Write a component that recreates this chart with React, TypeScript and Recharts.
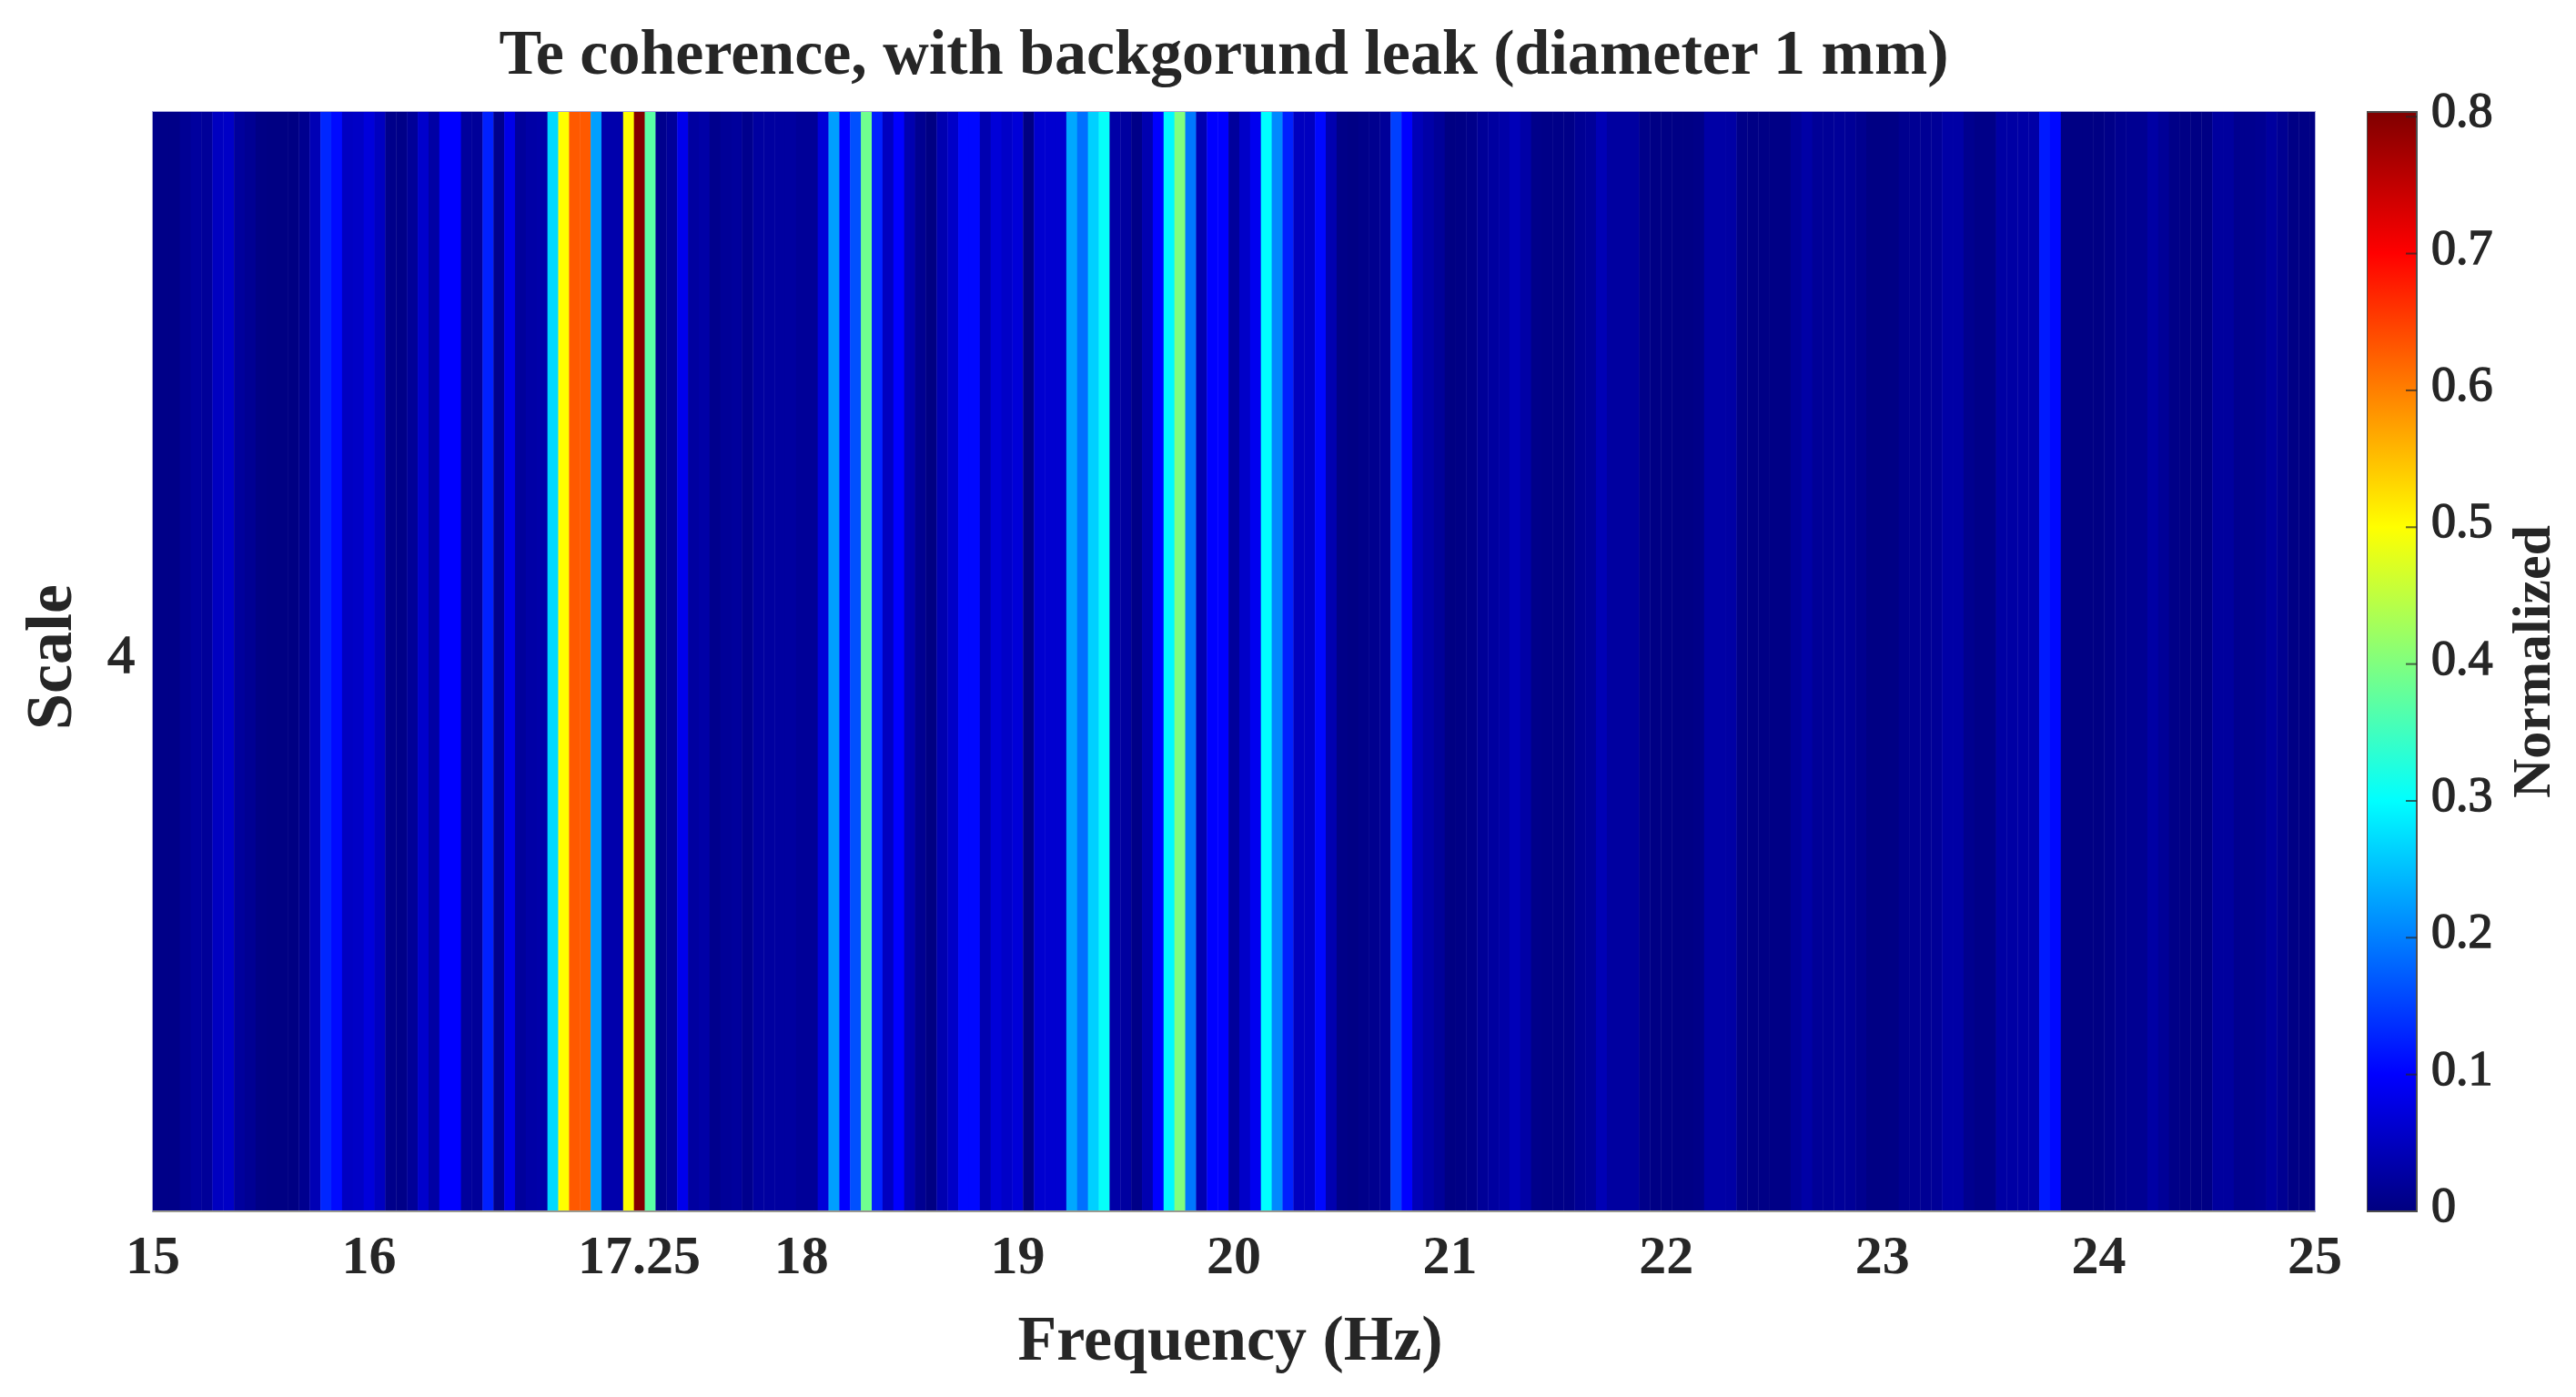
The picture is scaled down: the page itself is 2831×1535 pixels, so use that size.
import React from 'react';
import { BarChart, Bar, XAxis, YAxis, ReferenceArea } from 'recharts';

const title = 'Te coherence, with backgorund leak (diameter 1 mm)';
const frequencyTicks = [15, 16, 17.25, 18, 19, 20, 21, 22, 23, 24, 25];
const scaleTicks = [4];
const colorbarTicks = [0, 0.1, 0.2, 0.3, 0.4, 0.5, 0.6, 0.7, 0.8];
const colorMax = 0.8035;

// one value every 0.05 Hz, starting at 15 Hz
const coherence = [
  0.008, 0.006, 0.006, 0.016, 0.024, 0.02, 0.05, 0.055, 0.022, 0.015,
  0.004, 0.002, 0.002, 0.002, 0.012, 0.042, 0.13, 0.108, 0.052, 0.055,
  0.072, 0.05, 0.008, 0.006, 0.02, 0.06, 0.028, 0.1, 0.1, 0.022,
  0.02, 0.125, 0.01, 0.082, 0.022, 0.03, 0.032, 0.27, 0.5, 0.63,
  0.63, 0.225, 0.035, 0.035, 0.5, 0.8, 0.37, 0.01, 0.02, 0.085,
  0.025, 0.031, 0.01, 0.019, 0.022, 0.01, 0.025, 0.025, 0.025, 0.025,
  0.019, 0.019, 0.069, 0.225, 0.1, 0.163, 0.388, 0.125, 0.05, 0.1,
  0.038, 0.013, 0.002, 0.038, 0.057, 0.106, 0.106, 0.038, 0.069, 0.057,
  0.069, 0.002, 0.063, 0.063, 0.063, 0.232, 0.188, 0.263, 0.305, 0.031,
  0.025, 0.006, 0.038, 0.1, 0.295, 0.4, 0.194, 0.038, 0.1, 0.1,
  0.022, 0.057, 0.088, 0.3, 0.207, 0.125, 0.05, 0.05, 0.106, 0.038,
  0.006, 0.004, 0.008, 0.012, 0.02, 0.15, 0.1, 0.044, 0.031, 0.019,
  0.002, 0.004, 0.008, 0.019, 0.025, 0.031, 0.044, 0.031, 0.008, 0.006,
  0.006, 0.006, 0.016, 0.02, 0.042, 0.025, 0.025, 0.025, 0.008, 0.004,
  0.004, 0.004, 0.004, 0.006, 0.03, 0.03, 0.028, 0.006, 0.004, 0.005,
  0.005, 0.003, 0.018, 0.03, 0.018, 0.018, 0.02, 0.018, 0.012, 0.003,
  0.003, 0.004, 0.012, 0.015, 0.016, 0.018, 0.03, 0.03, 0.012, 0.006,
  0.006, 0.028, 0.028, 0.03, 0.03, 0.12, 0.106, 0.003, 0.003, 0.003,
  0.003, 0.006, 0.012, 0.014, 0.014, 0.028, 0.018, 0.006, 0.004, 0.003,
  0.003, 0.024, 0.024, 0.012, 0.012, 0.014, 0.024, 0.014, 0.004, 0.004,
  0.003,
];

// jet colormap as value / rgb pairs
const jetStops: Array<[number, number[]]> = [
  [0, [0, 0, 128]],
  [0.1, [0, 0, 255]],
  [0.3, [0, 255, 255]],
  [0.5, [255, 255, 0]],
  [0.7, [255, 0, 0]],
  [colorMax, [128, 0, 0]],
];

const jet = (v: number) => {
  for (let i = 1; i < jetStops.length; i++) {
    const [v0, c0] = jetStops[i - 1];
    const [v1, c1] = jetStops[i];
    if (v <= v1) {
      const t = (v - v0) / (v1 - v0);
      const c = c0.map((a, j) => Math.round(a + (c1[j] - a) * t));
      return `rgb(${c.join(',')})`;
    }
  }
  return 'rgb(128,0,0)';
};

const heatData = coherence.map((value, i) => ({
  freq: Math.round((15 + i * 0.05) * 100) / 100,
  top: 4.5,
  value,
}));
const colorbarData = [{ name: 'Normalized', top: colorMax }];

const FONT = '"Liberation Serif", serif';
const INK = '#262626';

const XTick = ({ x, y, payload }: any) => (
  <text x={x} y={y + 60} textAnchor="middle" fontFamily={FONT} fontSize={60} fontWeight="bold" fill={INK}>
    {payload.value}
  </text>
);

const ScaleTick = ({ x, y, payload }: any) => (
  <text x={x + 4} y={y + 12} textAnchor="end" fontFamily={FONT} fontSize={60} stroke={INK} strokeWidth={1.5} fill={INK}>
    {payload.value}
  </text>
);

const ColorbarTick = ({ x, y, payload }: any) => (
  <g>
    {payload.value > 0 && <line x1={x - 12} x2={x} y1={y} y2={y} stroke={INK} strokeOpacity={0.7} strokeWidth={2} />}
    <text x={x + 16} y={y + 11} fontFamily={FONT} fontSize={54} stroke={INK} strokeWidth={1.5} fill={INK}>
      {payload.value}
    </text>
  </g>
);

// recharts floors the band width, so draw each cell a little wider to close the seams
const HeatCell = (props: any) => (
  <rect x={props.x} y={props.y} width={12.3} height={props.height} fill={jet(props.payload.value)} />
);

export default function App() {
  return (
    <div style={{ position: 'absolute', left: 0, top: 0, width: 2831, height: 1535, background: '#fff', overflow: 'hidden' }}>
      <div
        style={{
          position: 'absolute',
          left: 0,
          width: 2690,
          top: 20,
          textAlign: 'center',
          fontFamily: FONT,
          fontSize: 70,
          fontWeight: 'bold',
          lineHeight: '76px',
          color: INK,
          whiteSpace: 'nowrap',
        }}
      >
        {title}
      </div>

      <div style={{ position: 'absolute', left: 0, top: 0 }}>
        <BarChart
          width={2600}
          height={1535}
          data={heatData}
          margin={{ top: 123, right: 56, bottom: 0, left: 0 }}
          barCategoryGap={0}
        >
          <XAxis
            dataKey="freq"
            type="number"
            domain={[15, 25]}
            ticks={frequencyTicks}
            interval={0}
            allowDataOverflow
            height={204}
            tick={XTick}
            tickLine={false}
            axisLine={{ stroke: '#9a9a90', strokeWidth: 2 }}
            label={{
              value: 'Frequency (Hz)',
              position: 'insideBottom',
              offset: 41,
              dx: -4,
              style: { fontFamily: FONT, fontSize: 70, fontWeight: 'bold', fill: INK },
            }}
          />
          <YAxis
            type="number"
            domain={[3.5, 4.5]}
            ticks={scaleTicks}
            width={168}
            tick={ScaleTick}
            tickLine={false}
            axisLine={false}
            tickMargin={18}
            label={{
              value: 'Scale',
              angle: -90,
              position: 'insideLeft',
              offset: 52,
              dy: -5,
              style: { fontFamily: FONT, fontSize: 72, fontWeight: 'bold', fill: INK, textAnchor: 'middle' },
            }}
          />
          <Bar dataKey="top" shape={HeatCell} isAnimationActive={false} />
          <ReferenceArea x1={15} x2={25} y1={3.5} y2={4.5} fill="none" stroke="#a9a9d8" strokeWidth={2} />
        </BarChart>
      </div>

      <div style={{ position: 'absolute', left: 2601, top: 0 }}>
        <BarChart
          width={230}
          height={1535}
          data={colorbarData}
          margin={{ top: 123, right: 0, bottom: 204, left: 0 }}
          barCategoryGap={0}
        >
          <defs>
            <linearGradient id="jetGradient" x1="0" y1="1" x2="0" y2="0">
              {jetStops.map(([v, c]) => (
                <stop key={v} offset={v / colorMax} stopColor={`rgb(${c.join(',')})`} />
              ))}
            </linearGradient>
          </defs>
          <XAxis dataKey="name" hide />
          <YAxis
            orientation="right"
            type="number"
            domain={[0, colorMax]}
            ticks={colorbarTicks}
            interval={0}
            width={175}
            tick={ColorbarTick}
            tickLine={false}
            axisLine={false}
            tickSize={0}
            tickMargin={0}
            label={{
              value: 'Normalized',
              angle: -90,
              position: 'insideRight',
              offset: 50,
              style: { fontFamily: FONT, fontSize: 60, fontWeight: 'bold', fill: INK, textAnchor: 'middle' },
            }}
          />
          <Bar dataKey="top" fill="url(#jetGradient)" stroke="#4d4d4d" strokeWidth={2} isAnimationActive={false} />
        </BarChart>
      </div>
    </div>
  );
}
